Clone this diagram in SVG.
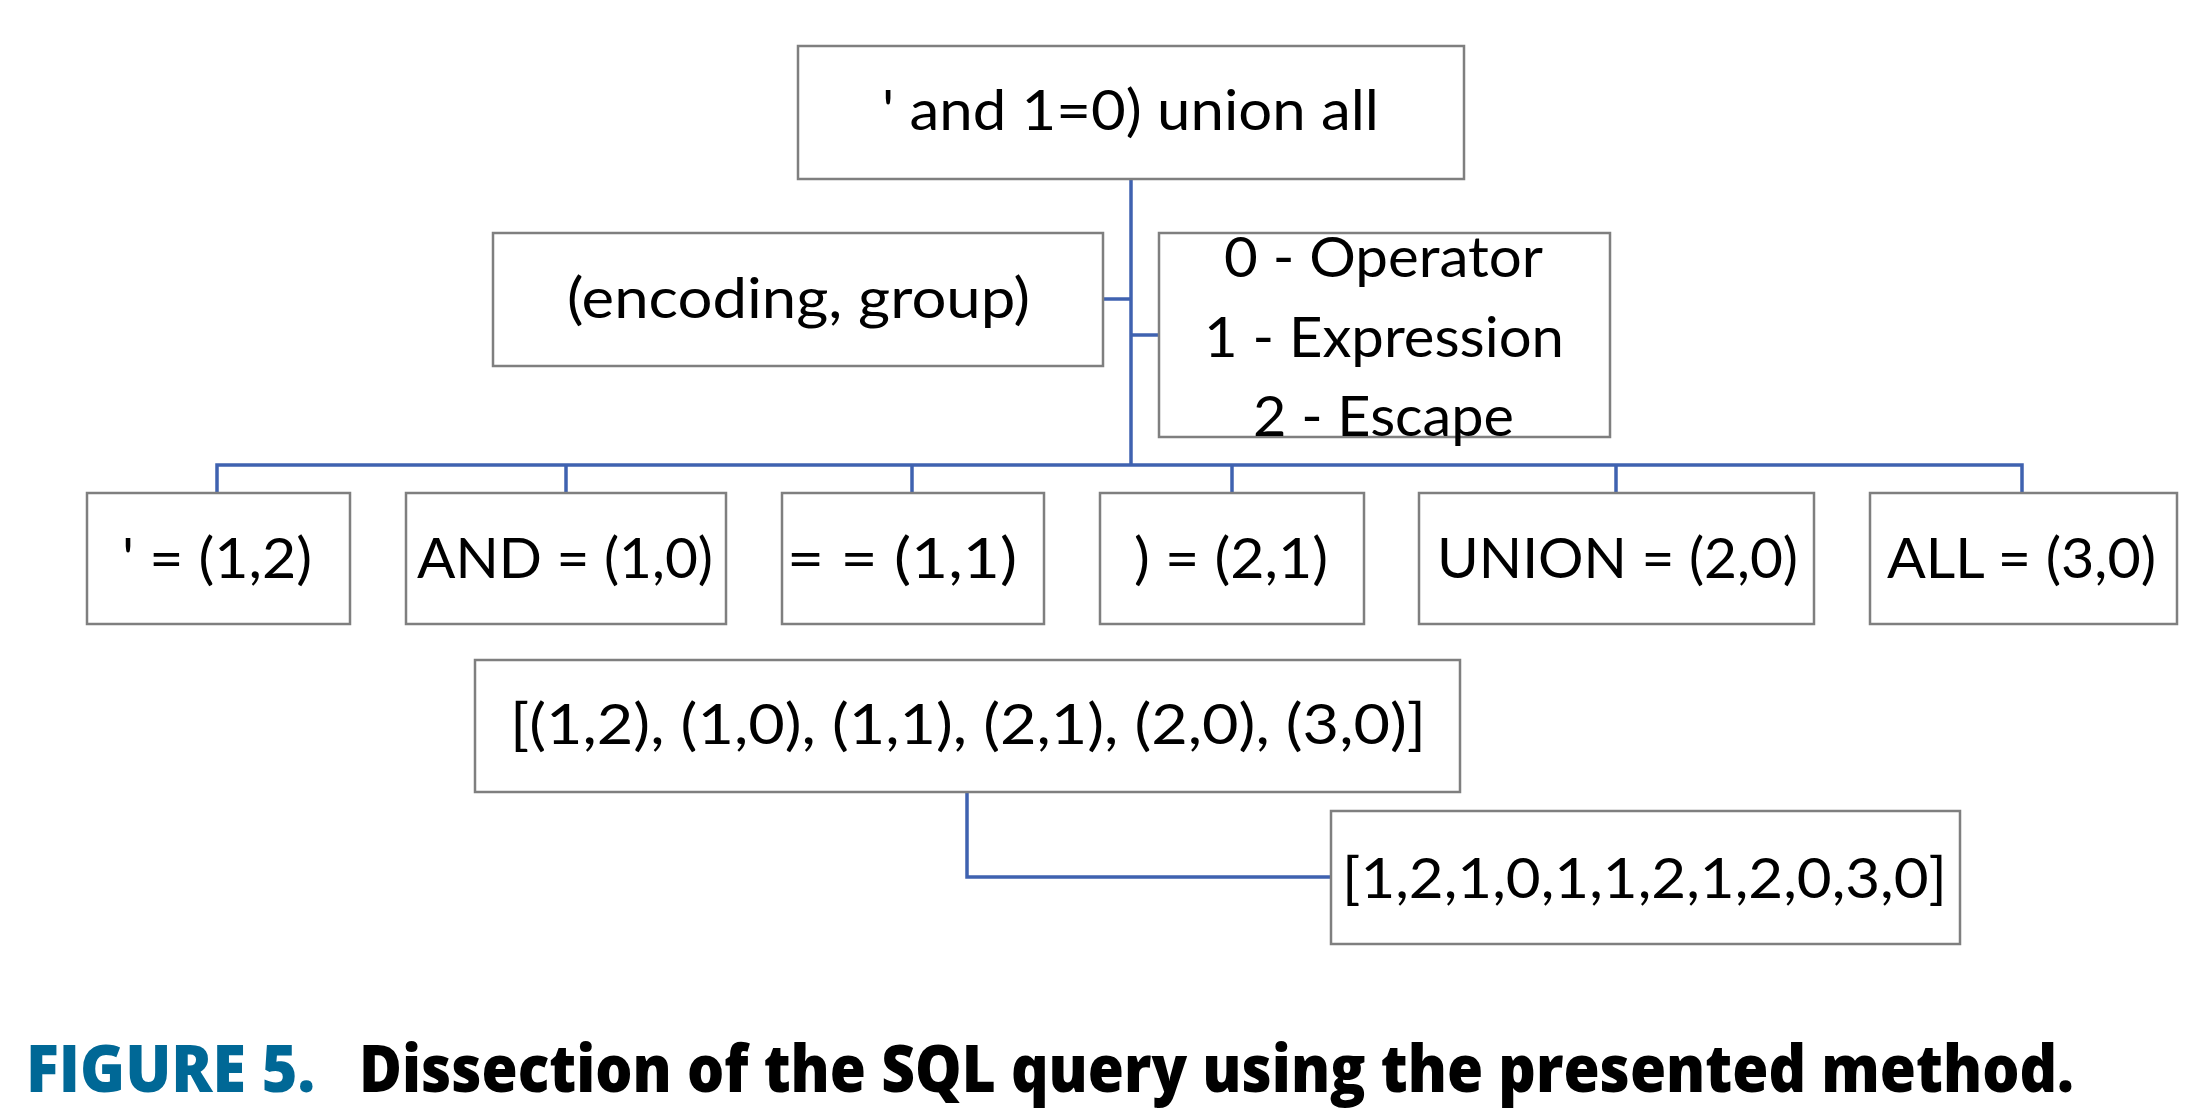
<svg xmlns="http://www.w3.org/2000/svg" width="2208" height="1120" viewBox="0 0 2208 1120">
<style>
.box{fill:#ffffff;stroke:#7f7f7f;stroke-width:2.5}
.t{font-family:Lato,"Open Sans","Liberation Sans",sans-serif;font-size:56px;fill:#000000}
.con{fill:none;stroke:#3f62b0;stroke-width:3.5}
.cap{font-family:"Open Sans","Liberation Sans",sans-serif;font-weight:800;font-size:65px}
</style>
<rect width="2208" height="1120" fill="#ffffff"/>
<g id="connectors">
<path class="con" d="M1131 179 V465"/>
<path class="con" d="M1103 299 H1131"/>
<path class="con" d="M1131 335 H1159"/>
<path class="con" d="M217 493 V465 H2022 V493"/>
<path class="con" d="M566 465 V493"/>
<path class="con" d="M912 465 V493"/>
<path class="con" d="M1232 465 V493"/>
<path class="con" d="M1616 465 V493"/>
<path class="con" d="M967 792 V877 H1331"/>
</g>
<g id="query">
<rect class="box" x="798" y="46" width="666" height="133"/>
<text class="t" x="882" y="130" textLength="497" lengthAdjust="spacingAndGlyphs">' and 1=0) union all</text>
</g>
<g id="encoding">
<rect class="box" x="493" y="233" width="610" height="133"/>
<text class="t" x="567" y="318" textLength="463" lengthAdjust="spacingAndGlyphs">(encoding, group)</text>
</g>
<g id="legend">
<rect class="box" x="1159" y="233" width="451" height="204"/>
<text class="t" x="1224" y="277" textLength="319" lengthAdjust="spacingAndGlyphs">0 - Operator</text>
<text class="t" x="1204" y="357" textLength="360" lengthAdjust="spacingAndGlyphs">1 - Expression</text>
<text class="t" x="1253" y="436" textLength="261" lengthAdjust="spacingAndGlyphs">2 - Escape</text>
</g>
<g id="tok1">
<rect class="box" x="87" y="493" width="263" height="131"/>
<text class="t" x="122" y="578" textLength="190" lengthAdjust="spacingAndGlyphs">' = (1,2)</text>
</g>
<g id="tok2">
<rect class="box" x="406" y="493" width="320" height="131"/>
<text class="t" x="417" y="578" textLength="296" lengthAdjust="spacingAndGlyphs">AND = (1,0)</text>
</g>
<g id="tok3">
<rect class="box" x="782" y="493" width="262" height="131"/>
<text class="t" x="787" y="578" textLength="230" lengthAdjust="spacingAndGlyphs">= = (1,1)</text>
</g>
<g id="tok4">
<rect class="box" x="1100" y="493" width="264" height="131"/>
<text class="t" x="1134" y="578" textLength="194" lengthAdjust="spacingAndGlyphs">) = (2,1)</text>
</g>
<g id="tok5">
<rect class="box" x="1419" y="493" width="395" height="131"/>
<text class="t" x="1437" y="578" textLength="361" lengthAdjust="spacingAndGlyphs">UNION = (2,0)</text>
</g>
<g id="tok6">
<rect class="box" x="1870" y="493" width="307" height="131"/>
<text class="t" x="1887" y="578" textLength="269" lengthAdjust="spacingAndGlyphs">ALL = (3,0)</text>
</g>
<g id="pairs">
<rect class="box" x="475" y="660" width="985" height="132"/>
<text class="t" x="510" y="744" textLength="916" lengthAdjust="spacingAndGlyphs">[(1,2), (1,0), (1,1), (2,1), (2,0), (3,0)]</text>
</g>
<g id="flat">
<rect class="box" x="1331" y="811" width="629" height="133"/>
<text class="t" x="1342" y="898" textLength="605" lengthAdjust="spacingAndGlyphs">[1,2,1,0,1,1,2,1,2,0,3,0]</text>
</g>
<g id="caption">
<text class="cap" x="26" y="1092" fill="#006896" textLength="289" lengthAdjust="spacingAndGlyphs">FIGURE 5.</text>
<text class="cap" x="359" y="1092" fill="#000000" textLength="1715" lengthAdjust="spacingAndGlyphs">Dissection of the SQL query using the presented method.</text>
</g>
</svg>
